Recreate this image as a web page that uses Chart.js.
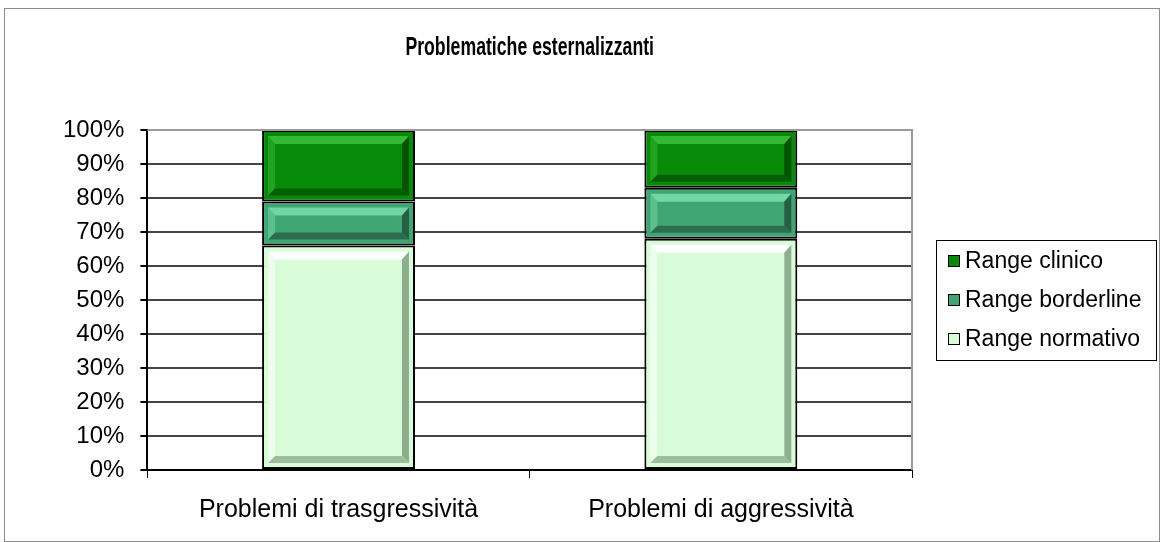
<!DOCTYPE html>
<html>
<head>
<meta charset="utf-8">
<title>Problematiche esternalizzanti</title>
<script src="https://cdn.jsdelivr.net/npm/chart.js@4.4.1/dist/chart.umd.min.js"></script>
<style>
    html, body { margin: 0; padding: 0; background: #fff; }
    #wrap { width: 1160px; height: 542px; }
</style>
</head>
<body>
<div id="wrap"><canvas id="chart" width="1160" height="542"></canvas></div>
<script>
// DATA (percentuali)
const chartTitle = "Problematiche esternalizzanti";
const categories = ["Problemi di trasgressività", "Problemi di aggressività"];
const normativo = [66, 68];
const borderline = [13, 15];
const clinico = [21, 17];
const yTicks = [0, 10, 20, 30, 40, 50, 60, 70, 80, 90, 100];

const FONT = "'Liberation Sans', Arial, sans-serif";

// colori effetto rilievo: [chiaro, scuro]
const bevel = {
    "Range normativo": ["#ffffff", "#8fae8f"],
    "Range borderline": ["#72d6a4", "#275f45"],
    "Range clinico": ["#35b935", "#045404"]
};

// bordo esterno + bordo area del grafico
const framePlugin = {
    id: "frame",
    beforeDraw(chart) {
        const ctx = chart.ctx;
        ctx.save();
        ctx.strokeStyle = "#8c8c8c";
        ctx.lineWidth = 1;
        ctx.strokeRect(4.5, 8.5, 1155, 533);
        ctx.restore();
    },
    afterDatasetsDraw(chart) {
        const a = chart.chartArea;
        const ctx = chart.ctx;
        ctx.save();
        ctx.strokeStyle = "#9a9a9a";
        ctx.lineWidth = 2;
        ctx.beginPath();
        ctx.moveTo(a.left, a.top);
        ctx.lineTo(a.right, a.top);
        ctx.lineTo(a.right, a.bottom);
        ctx.stroke();
        ctx.restore();
    }
};

// titolo un po' stretto, come nel grafico Excel
const titlePlugin = {
    id: "narrowTitle",
    afterDraw(chart) {
        const ctx = chart.ctx;
        const a = chart.chartArea;
        ctx.save();
        ctx.translate((a.left + a.right) / 2, 48);
        ctx.scale(0.68, 1);
        ctx.font = "bold 26px " + FONT;
        ctx.fillStyle = "#000";
        ctx.textAlign = "center";
        ctx.textBaseline = "middle";
        ctx.fillText(chartTitle, 0, 0);
        ctx.restore();
    }
};

// smussatura interna delle barre (stile Excel)
const bevelPlugin = {
    id: "bevel",
    afterDatasetDraw(chart, args) {
        const ds = chart.data.datasets[args.index];
        const [light, dark] = bevel[ds.label];
        const ctx = chart.ctx;
        args.meta.data.forEach(bar => {
            const p = bar.getProps(["x", "y", "base", "width"], true);
            const l = p.x - p.width / 2 + 6, r = p.x + p.width / 2 - 6;
            const t = Math.min(p.y, p.base) + 6, b = Math.max(p.y, p.base) - 6;
            const bt = 8, bs = 7;
            if (b - t < bt + bs + 2) return;
            ctx.save();
            const quad = (pts, c) => {
                ctx.fillStyle = c;
                ctx.beginPath();
                ctx.moveTo(pts[0][0], pts[0][1]);
                pts.slice(1).forEach(q => ctx.lineTo(q[0], q[1]));
                ctx.closePath();
                ctx.fill();
            };
            quad([[l, t], [r, t], [r - bs, t + bt], [l + bs, t + bt]], light);
            ctx.globalAlpha = 0.55;
            quad([[l, t], [l + bs, t + bt], [l + bs, b - bs], [l, b]], light);
            ctx.globalAlpha = 0.8;
            quad([[l, b], [l + bs, b - bs], [r - bs, b - bs], [r, b]], dark);
            ctx.globalAlpha = 1;
            quad([[r, t], [r, b], [r - bs, b - bs], [r - bs, t + bt]], dark);
            ctx.restore();
        });
    }
};

// legenda con riquadro (ordine inverso, come Excel)
const legendBoxPlugin = {
    id: "legendBox",
    afterDraw(chart) {
        const ctx = chart.ctx;
        const a = chart.chartArea;
        const sets = chart.data.datasets.slice().reverse();
        const step = 39;
        const left = a.right + 24;
        const width = 220;
        const height = 120;
        const mid = (a.top + a.bottom) / 2;
        ctx.save();
        ctx.strokeStyle = "#000";
        ctx.lineWidth = 1;
        ctx.strokeRect(left + 0.5, mid - height / 2 + 0.5, width, height);
        ctx.font = "23px " + FONT;
        ctx.textBaseline = "middle";
        sets.forEach((ds, i) => {
            const cy = mid + (i - 1) * step;
            ctx.fillStyle = ds.backgroundColor;
            ctx.fillRect(left + 12, cy - 6, 12, 12);
            ctx.strokeStyle = "#000";
            ctx.strokeRect(left + 12.5, cy - 5.5, 11, 11);
            ctx.fillStyle = "#000";
            ctx.fillText(ds.label, left + 29, cy + 1);
        });
        ctx.restore();
    }
};

const ctx = document.getElementById("chart").getContext("2d");
new Chart(ctx, {
    type: "bar",
    data: {
        labels: categories,
        datasets: [
            { label: "Range normativo", data: normativo, backgroundColor: "#d7fcd7" },
            { label: "Range borderline", data: borderline, backgroundColor: "#3ea573" },
            { label: "Range clinico", data: clinico, backgroundColor: "#078a07" }
        ]
    },
    options: {
        responsive: false,
        animation: false,
        layout: { padding: { left: 47, right: 248, top: 130, bottom: 0 } },
        datasets: {
            bar: {
                categoryPercentage: 0.8,
                barPercentage: 0.5,
                borderColor: "#000",
                borderWidth: 2,
                borderSkipped: false
            }
        },
        plugins: {
            legend: { display: false },
            tooltip: { enabled: false },
            title: { display: false }
        },
        scales: {
            x: {
                stacked: true,
                border: { color: "#000", width: 2 },
                grid: { drawOnChartArea: false, drawTicks: true, tickLength: 8, color: "#000" },
                ticks: { color: "#000", padding: 17, font: { family: FONT, size: 25 } }
            },
            y: {
                stacked: true,
                min: 0,
                max: 100,
                afterBuildTicks: axis => { axis.ticks = yTicks.map(v => ({ value: v })); },
                border: { color: "#000", width: 2 },
                grid: { color: "#454545", lineWidth: 2, tickLength: 7, tickColor: "#000" },
                ticks: {
                    color: "#000",
                    padding: 16,
                    font: { family: FONT, size: 24 },
                    callback: v => v + "%"
                }
            }
        }
    },
    plugins: [framePlugin, bevelPlugin, legendBoxPlugin, titlePlugin]
});
</script>
</body>
</html>
